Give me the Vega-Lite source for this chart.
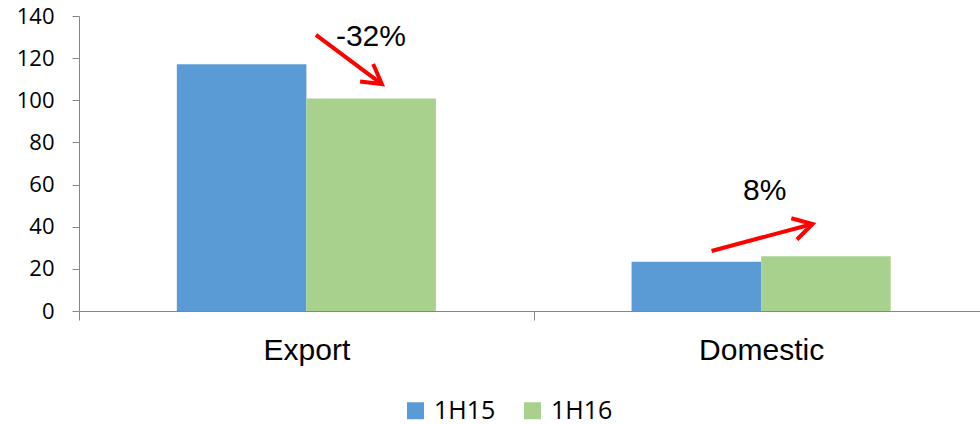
{
  "$schema": "https://vega.github.io/schema/vega-lite/v6.json",
  "width": 901,
  "height": 295,
  "autosize": "none",
  "padding": {"left": 79, "top": 16, "right": 0, "bottom": 113},
  "background": "white",
  "datasets": {
    "bars": [
      {"region": "Export", "period": "1H15", "value": 117.1},
      {"region": "Export", "period": "1H16", "value": 100.9},
      {"region": "Domestic", "period": "1H15", "value": 23.4},
      {"region": "Domestic", "period": "1H16", "value": 26.0}
    ],
    "arrows": [
      {"x1": 0.521, "y1": 131.0, "x2": 0.666, "y2": 107.7, "angle": 36.6},
      {"x1": 1.391, "y1": 28.5, "x2": 1.613, "y2": 41.3, "angle": 345}
    ],
    "labels": [
      {"x": 0.642, "y": 130.0, "text": "-32%"},
      {"x": 1.508, "y": 57.0, "text": "8%"}
    ]
  },
  "config": {
    "view": {"stroke": null},
    "axis": {"grid": false}
  },
  "layer": [
    {
      "data": {"name": "bars"},
      "mark": {"type": "bar"},
      "encoding": {
        "x": {
          "field": "region", "type": "nominal", "sort": ["Export", "Domestic"],
          "scale": {"range": [0, 909.5], "paddingInner": 0, "paddingOuter": 0},
          "axis": {
            "title": null, "labelAngle": 0, "labelFont": "Liberation Sans", "labelFontSize": 30,
            "labelColor": "#000000", "labelPadding": 15, "tickSize": 9, "tickColor": "#868686",
            "domainColor": "#868686", "tickBand": "extent"
          }
        },
        "xOffset": {"field": "period", "type": "nominal", "scale": {"paddingInner": 0, "paddingOuter": 0.755}},
        "y": {
          "field": "value", "type": "quantitative",
          "scale": {"domain": [0, 140], "nice": false},
          "axis": {
            "title": null, "values": [0, 20, 40, 60, 80, 100, 120, 140],
            "labelFont": "Open Sans", "labelFontSize": 22, "labelColor": "#000000",
            "labelPadding": 18, "tickSize": 7, "tickColor": "#868686", "domainColor": "#868686"
          }
        },
        "color": {
          "field": "period", "type": "nominal",
          "scale": {"domain": ["1H15", "1H16"], "range": ["#5B9BD5", "#A9D18E"]},
          "legend": {
            "title": null, "orient": "none", "direction": "horizontal",
            "legendX": 320, "legendY": 378, "padding": 4,
            "symbolType": "square", "symbolSize": 289, "symbolStrokeWidth": 0, "symbolOffset": 0,
            "labelFont": "Open Sans", "labelFontSize": 25, "labelColor": "#000000",
            "labelOffset": 6, "columnPadding": 24, "labelLimit": 200
          }
        }
      }
    },
    {
      "data": {"name": "arrows"},
      "mark": {"type": "rule", "color": "#FF0000", "strokeWidth": 4},
      "encoding": {
        "x": {"field": "x1", "type": "quantitative", "scale": {"domain": [0, 2], "range": [0, 909.5]}, "axis": null},
        "x2": {"field": "x2"},
        "y": {"field": "y1", "type": "quantitative"},
        "y2": {"field": "y2"}
      }
    },
    {
      "data": {"name": "arrows"},
      "mark": {"type": "point", "shape": "M-1,-0.577L0,0L-1,0.577", "filled": false, "color": "#FF0000", "strokeWidth": 4, "size": 1444, "opacity": 1},
      "encoding": {
        "x": {"field": "x2", "type": "quantitative", "scale": {"domain": [0, 2], "range": [0, 909.5]}, "axis": null},
        "y": {"field": "y2", "type": "quantitative"},
        "angle": {"field": "angle", "type": "quantitative", "scale": null}
      }
    },
    {
      "data": {"name": "labels"},
      "mark": {"type": "text", "font": "Liberation Sans", "fontSize": 30, "color": "#000000", "align": "center", "baseline": "middle"},
      "encoding": {
        "x": {"field": "x", "type": "quantitative", "scale": {"domain": [0, 2], "range": [0, 909.5]}, "axis": null},
        "y": {"field": "y", "type": "quantitative"},
        "text": {"field": "text"}
      }
    }
  ],
  "resolve": {"scale": {"x": "independent"}}
}
